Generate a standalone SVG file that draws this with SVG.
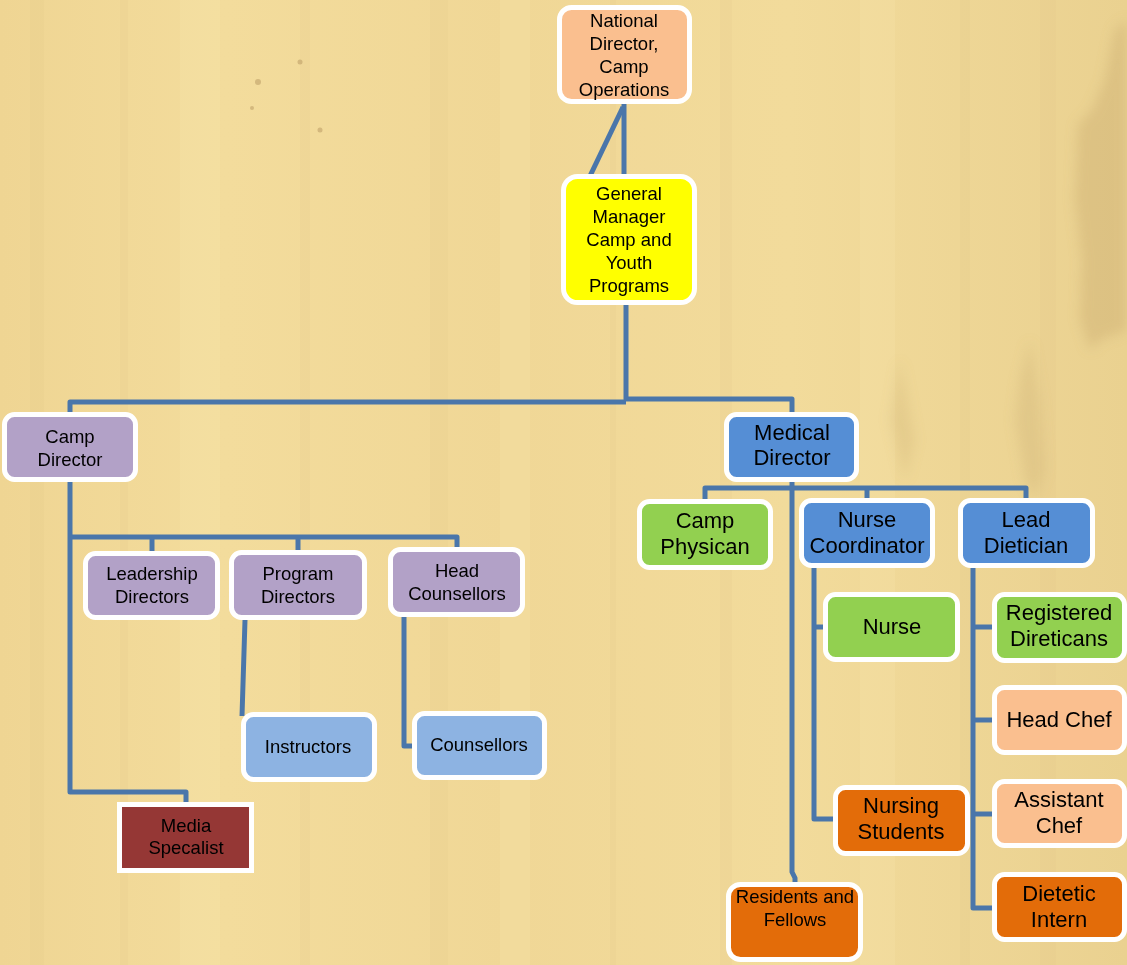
<svg xmlns="http://www.w3.org/2000/svg" width="1127" height="965" viewBox="0 0 1127 965">
<defs>
<linearGradient id="wood" x1="0" y1="0" x2="1" y2="0">
<stop offset="0" stop-color="#efd593"/>
<stop offset="0.2" stop-color="#f3dc9c"/>
<stop offset="0.45" stop-color="#f0d796"/>
<stop offset="0.7" stop-color="#f2db9b"/>
<stop offset="1" stop-color="#ead190"/>
</linearGradient>
<filter id="soft" x="-20%" y="-20%" width="140%" height="140%">
<feGaussianBlur stdDeviation="6"/>
</filter>
<style>
.bg{fill:url(#wood)}
.streak{fill:#d9bc7c;opacity:0.1}
.lite{fill:#fbe9b4;opacity:0.2}
.box{stroke:#ffffff;stroke-width:5}
.c{fill:none;stroke:#4a76aa;stroke-width:5;stroke-linejoin:round}
text{font-family:"Liberation Sans",Arial,sans-serif;fill:#000000;text-anchor:middle}
.s{font-size:18.5px}
.l{font-size:22px}
.peach{fill:#fabf8f}
.yellow{fill:#ffff00}
.lav{fill:#b2a1c7}
.lblue{fill:#8db3e2}
.blue{fill:#558ed5}
.green{fill:#92d050}
.orange{fill:#e36c09}
.maroon{fill:#953735}
</style>
</defs>
<rect class="bg" x="0" y="0" width="1127" height="965"/>
<g id="texture">
<rect class="streak" x="30" y="0" width="14" height="965"/>
<rect class="streak" x="120" y="0" width="8" height="965"/>
<rect class="lite" x="180" y="0" width="40" height="965"/>
<rect class="streak" x="300" y="0" width="10" height="965"/>
<rect class="streak" x="430" y="0" width="18" height="965"/>
<rect class="lite" x="500" y="0" width="30" height="965"/>
<rect class="streak" x="610" y="0" width="6" height="965"/>
<rect class="streak" x="720" y="0" width="12" height="965"/>
<rect class="lite" x="860" y="0" width="35" height="965"/>
<rect class="streak" x="960" y="0" width="10" height="965"/>
<rect class="streak" x="1040" y="0" width="16" height="965"/>
<g filter="url(#soft)">
<path d="M1127,20 L1115,30 L1105,80 L1092,110 L1078,125 L1075,200 L1082,260 L1080,320 L1090,350 L1100,340 L1127,330 Z" fill="#c9ab6f" opacity="0.4"/>
<path d="M1030,340 L1020,380 L1015,420 L1025,480 L1035,500 L1045,470 L1040,400 Z" fill="#c9ab6f" opacity="0.3"/>
<path d="M900,360 L890,420 L905,480 L915,440 Z" fill="#c9ab6f" opacity="0.25"/>
</g>
<circle cx="258" cy="82" r="3" fill="#b59560" opacity="0.5"/>
<circle cx="300" cy="62" r="2.5" fill="#b59560" opacity="0.5"/>
<circle cx="320" cy="130" r="2.5" fill="#b59560" opacity="0.5"/>
<circle cx="252" cy="108" r="2" fill="#b59560" opacity="0.5"/>
</g>
<g id="connectors">
<path class="c" d="M624,104 V176"/>
<path class="c" d="M623,107 L590,176"/>
<path class="c" d="M626,305 V399 H792 V414"/>
<path class="c" d="M70,414 V402 H626"/>
<path class="c" d="M70,482 V792 H186 V804"/>
<path class="c" d="M70,537 H457 V549"/>
<path class="c" d="M152,537 V553"/>
<path class="c" d="M298,537 V552"/>
<path class="c" d="M245,620 L242,716"/>
<path class="c" d="M404,617 V746 H416"/>
<path class="c" d="M792,482 V872 L795,878 V884"/>
<path class="c" d="M705,501 V488 H1026 V500"/>
<path class="c" d="M867,488 V500"/>
<path class="c" d="M814,568 V819 H837"/>
<path class="c" d="M814,627 H827"/>
<path class="c" d="M973,568 V908 H996"/>
<path class="c" d="M973,627 H996"/>
<path class="c" d="M973,720 H996"/>
<path class="c" d="M973,814 H996"/>
</g>
<g id="national-director">
<rect class="box peach" x="559.5" y="7.5" width="130" height="94" rx="12"/>
<text class="s" x="624" y="27">National</text>
<text class="s" x="624" y="50">Director,</text>
<text class="s" x="624" y="73">Camp</text>
<text class="s" x="624" y="96">Operations</text>
</g>
<g id="general-manager">
<rect class="box yellow" x="563.5" y="176.5" width="131" height="126" rx="14"/>
<text class="s" x="629" y="200">General</text>
<text class="s" x="629" y="223">Manager</text>
<text class="s" x="629" y="246">Camp and</text>
<text class="s" x="629" y="269">Youth</text>
<text class="s" x="629" y="292">Programs</text>
</g>
<g id="camp-director">
<rect class="box lav" x="4.5" y="414.5" width="131" height="65" rx="10"/>
<text class="s" x="70" y="443">Camp</text>
<text class="s" x="70" y="466">Director</text>
</g>
<g id="leadership-directors">
<rect class="box lav" x="85.5" y="553.5" width="132" height="64" rx="10"/>
<text class="s" x="152" y="580">Leadership</text>
<text class="s" x="152" y="603">Directors</text>
</g>
<g id="program-directors">
<rect class="box lav" x="231.5" y="552.5" width="133" height="65" rx="10"/>
<text class="s" x="298" y="580">Program</text>
<text class="s" x="298" y="603">Directors</text>
</g>
<g id="head-counsellors">
<rect class="box lav" x="390.5" y="549.5" width="132" height="65" rx="10"/>
<text class="s" x="457" y="577">Head</text>
<text class="s" x="457" y="600">Counsellors</text>
</g>
<g id="instructors">
<rect class="box lblue" x="243.5" y="714.5" width="131" height="65" rx="10"/>
<text class="s" x="308" y="753">Instructors</text>
</g>
<g id="counsellors">
<rect class="box lblue" x="414.5" y="713.5" width="130" height="64" rx="10"/>
<text class="s" x="479" y="751">Counsellors</text>
</g>
<g id="media-specalist">
<rect class="box maroon" x="119.5" y="804.5" width="132" height="66"/>
<text class="s" x="186" y="832">Media</text>
<text class="s" x="186" y="854">Specalist</text>
</g>
<g id="medical-director">
<rect class="box blue" x="726.5" y="414.5" width="130" height="65" rx="10"/>
<text class="l" x="792" y="440">Medical</text>
<text class="l" x="792" y="465">Director</text>
</g>
<g id="camp-physican">
<rect class="box green" x="639.5" y="501.5" width="131" height="66" rx="10"/>
<text class="l" x="705" y="528">Camp</text>
<text class="l" x="705" y="554">Physican</text>
</g>
<g id="nurse-coordinator">
<rect class="box blue" x="801.5" y="500.5" width="131" height="65" rx="10"/>
<text class="l" x="867" y="527">Nurse</text>
<text class="l" x="867" y="553">Coordinator</text>
</g>
<g id="lead-dietician">
<rect class="box blue" x="960.5" y="500.5" width="132" height="65" rx="10"/>
<text class="l" x="1026" y="527">Lead</text>
<text class="l" x="1026" y="553">Dietician</text>
</g>
<g id="nurse">
<rect class="box green" x="825.5" y="594.5" width="132" height="65" rx="10"/>
<text class="l" x="892" y="634">Nurse</text>
</g>
<g id="nursing-students">
<rect class="box orange" x="835.5" y="787.5" width="132" height="66" rx="10"/>
<text class="l" x="901" y="813">Nursing</text>
<text class="l" x="901" y="839">Students</text>
</g>
<g id="registered-direticans">
<rect class="box green" x="994.5" y="594.5" width="130" height="66" rx="10"/>
<text class="l" x="1059" y="620">Registered</text>
<text class="l" x="1059" y="646">Direticans</text>
</g>
<g id="head-chef">
<rect class="box peach" x="994.5" y="687.5" width="130" height="65" rx="10"/>
<text class="l" x="1059" y="727">Head Chef</text>
</g>
<g id="assistant-chef">
<rect class="box peach" x="994.5" y="781.5" width="130" height="64" rx="10"/>
<text class="l" x="1059" y="807">Assistant</text>
<text class="l" x="1059" y="833">Chef</text>
</g>
<g id="dietetic-intern">
<rect class="box orange" x="994.5" y="874.5" width="130" height="65" rx="10"/>
<text class="l" x="1059" y="901">Dietetic</text>
<text class="l" x="1059" y="927">Intern</text>
</g>
<g id="residents-and-fellows">
<rect class="box orange" x="728.5" y="884.5" width="132" height="75" rx="12"/>
<text class="s" x="795" y="903">Residents and</text>
<text class="s" x="795" y="926">Fellows</text>
</g>
</svg>
